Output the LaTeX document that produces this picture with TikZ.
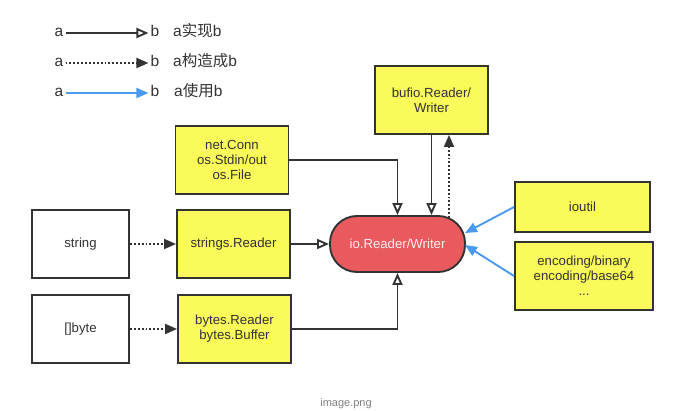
\documentclass[tikz,border=0pt]{standalone}
\usepackage{fontspec}
\setmainfont{Liberation Sans}
\newfontfamily\cjk{Noto Sans CJK SC}
\usetikzlibrary{arrows.meta, positioning}

\definecolor{pkgyellow}{RGB}{250,250,90}
\definecolor{iored}{RGB}{232,90,94}
\definecolor{useblue}{RGB}{74,155,240}
\definecolor{linegray}{RGB}{51,51,51}

\begin{document}
\begin{tikzpicture}[x=1pt, y=-1pt,
  txt/.style={font=\fontsize{13.2}{15}\selectfont, text=linegray, inner sep=3pt},
  legend/.style={font=\fontsize{15.5}{18}\selectfont, text=linegray, inner sep=2pt, text height=1.3ex, text depth=0.1ex},
  pkg/.style={txt, draw=linegray, line width=1.9pt, fill=pkgyellow, align=center, minimum width=113pt, minimum height=68pt},
  raw/.style={pkg, fill=white, minimum width=97pt},
  core/.style={txt, draw=linegray, line width=1.9pt, fill=iored, text=white!90!iored, rounded corners=27pt, minimum width=135pt, minimum height=56pt},
  impl/.style={draw=linegray, line width=1.9pt, -{Triangle[open, length=12pt, width=10pt]}},
  make/.style={draw=linegray, line width=1.9pt, dotted, -{Triangle[length=12pt, width=10pt]}},
  use/.style={draw=useblue, line width=1.9pt, -{Triangle[length=12pt, width=10pt]}}]
  \useasboundingbox (0,0) rectangle (688,411);

  % legend
  \node [legend] (la1) at (59,33) {a};
  \node [legend] (lb1) at (155,33) {b};
  \node [legend, anchor=west] (lt1) at (171,33) {a{\cjk 实现}b};
  \node [legend] (la2) at (59,63) {a};
  \node [legend] (lb2) at (155,63) {b};
  \node [legend, anchor=west] (lt2) at (171,63) {a{\cjk 构造成}b};
  \node [legend] (la3) at (59,93) {a};
  \node [legend] (lb3) at (155,93) {b};
  \node [legend, anchor=west] (lt3) at (172,93) {a{\cjk 使用}b};
  \draw [impl] (la1.east) -- (lb1.west);
  \draw [make] (la2.east) -- (lb2.west);
  \draw [use] (la3.east) -- (lb3.west);

  % packages
  \node [pkg] (bufio) at (431.5,100) {bufio.Reader/\\Writer};
  \node [pkg] (netconn) at (232,160) {net.Conn\\os.Stdin/out\\os.File};
  \node [raw] (str) at (80.5,244) {string};
  \node [pkg] (strreader) at (233.5,244) {strings.Reader};
  \node [raw] (bytes) at (80.5,329) {[]byte};
  \node [pkg] (bytesreader) at (234.5,329) {bytes.Reader\\bytes.Buffer};
  \node [core] (io) at (397.5,244) {io.Reader/Writer};
  \node [pkg, minimum width=135pt, minimum height=50pt] (ioutil) at (582.5,207) {ioutil};
  \node [pkg, minimum width=138pt] (encoding) at (584,276) {encoding/binary\\encoding/base64\\...};

  \coordinate (wrapout) at (449,218);
  \coordinate (usea) at (465,233);
  \coordinate (useb) at (465,245);

  % connectors
  \draw [impl] (netconn.east) -| (io.north);
  \draw [impl] (bufio.south) -- (bufio.south |- io.north);
  \draw [make] (wrapout) -- (wrapout |- bufio.south);
  \draw [impl] (strreader.east) -- (io.west);
  \draw [impl] (bytesreader.east) -| (io.south);
  \draw [make] (str.east) -- (strreader.west);
  \draw [make] (bytes.east) -- (bytesreader.west);
  \draw [use] (ioutil.west) -- (usea);
  \draw [use] (encoding.west) -- (useb);

  \node [txt, text=gray, font=\fontsize{11}{13}\selectfont, inner sep=1pt, anchor=south] (caption) at (346,410) {image.png};
\end{tikzpicture}
\end{document}
